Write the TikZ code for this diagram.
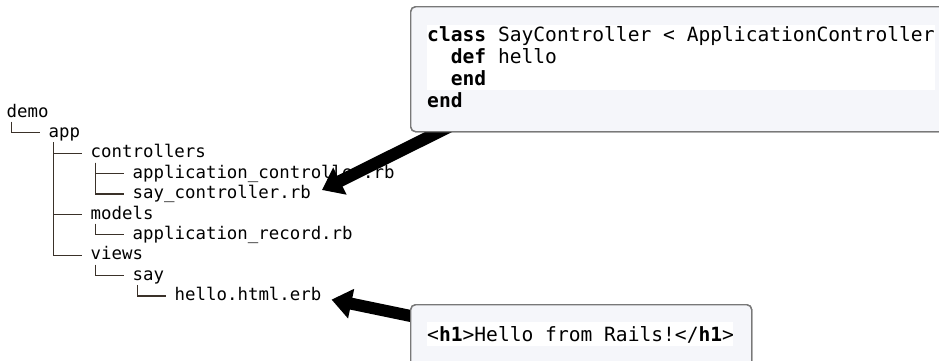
\documentclass[tikz,border=0pt]{standalone}
\usepackage{fontspec}
\setmonofont{DejaVu Sans Mono}
\usetikzlibrary{calc}
\usetikzlibrary{arrows.meta}
\definecolor{boxfill}{HTML}{F5F6FA}
\definecolor{boxline}{HTML}{787878}
\definecolor{treeline}{HTML}{3A3129}
\tikzset{
	entry/.style={
		anchor=base west,
		inner sep=0pt,
		font=\ttfamily\fontsize{17.4}{20}\selectfont,
	},
	branch/.style={
		draw=treeline,
		line width=1.3pt,
	},
	pointer/.style={
		line width=12pt,
		-{Triangle[length=20pt,width=29pt]}
	},
}

\begin{document}
\begin{tikzpicture}
[x=1pt, y=-1pt,
codebox/.style ={rectangle, draw=boxline, fill=boxfill, line width=1.4pt,
rounded corners=5pt, anchor=north west, inner sep=0pt},
code/.style ={anchor=base west, inner sep=0pt,
font=\ttfamily\fontsize{19.6}{22}\selectfont}]
\clip (0,0) rectangle (939,360);
% the tree
\node [entry] (demo) at (6.5,117) {demo};
\node [entry] (app) at (48.5,137.4) {app};
\node [entry] (ctrls) at (90.5,157.8) {controllers};
\node [entry] (appctrl) at (132.5,178.2) {application\_controller.rb};
\node [entry] (sayctrl) at (132.5,198.6) {say\_controller.rb};
\node [entry] (models) at (90.5,219) {models};
\node [entry] (apprec) at (132.5,239.4) {application\_record.rb};
\node [entry] (views) at (90.5,259.8) {views};
\node [entry] (say) at (132.5,280.2) {say};
\node [entry] (hello) at (174.5,300.6) {hello.html.erb};
\foreach \p/\c in {demo/app, app/ctrls, app/models, app/views, ctrls/appctrl,
  ctrls/sayctrl, models/apprec, views/say, say/hello}
  \draw[branch] ($(\p.base west)+(5.25,4.7)$) |- ($(\c.base west)+(-8.5,-4.6)$);
% row 2: the code boxes
\node [codebox, minimum width=560pt, minimum height=125pt] (sayBox) at (410,6) {};
\node [codebox, minimum width=341pt, minimum height=80pt] (helloBox) at (410,304) {};
\draw[pointer] ($(sayBox.south west)+(48,-10)$) -- ($(sayctrl.east)+(11,-4)$);
\draw[pointer] ($(helloBox.north west)+(20,16)$) -- ($(hello.base east)+(10,-1)$);
% boxes again on top of the arrow tails
\node [codebox, minimum width=560pt, minimum height=125pt] at (410,6) {};
\node [codebox, minimum width=341pt, minimum height=80pt] at (410,304) {};
\fill[white] ($(sayBox.north west)+(17,19)$) rectangle ($(sayBox.north west)+(525,84)$);
\fill[white] ($(helloBox.north west)+(17,18)$) rectangle ($(helloBox.north west)+(323,42)$);
\node [code] (sayCode) at (427,41) {\begin{tabular}[t]{@{}l@{}}
\textbf{class} SayController < ApplicationController\\
\hphantom{xx}\textbf{def} hello\\
\hphantom{xx}\textbf{end}\\
\textbf{end}
\end{tabular}};
\node [code] (helloCode) at (427,341) {<\textbf{h1}>Hello from Rails!</\textbf{h1}>};
\end{tikzpicture}
\end{document}
